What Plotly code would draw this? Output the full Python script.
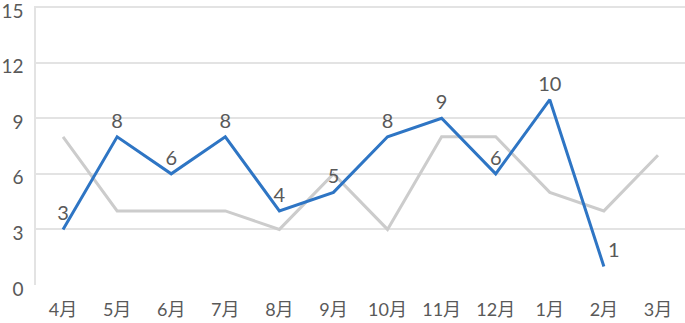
import plotly.graph_objects as go

months = ["4月", "5月", "6月", "7月", "8月", "9月", "10月", "11月", "12月", "1月", "2月", "3月"]
blue_vals = [3, 8, 6, 8, 4, 5, 8, 9, 6, 10, 1, None]
gray_vals = [8, 4, 4, 4, 3, 6, 3, 8, 8, 5, 4, 7]
blue_pos = ["top center"] * 10 + ["top right", "top center"]

FONT = "Lato, Noto Sans CJK JP"
TXT = "#595959"

fig = go.Figure()
fig.add_trace(go.Scatter(x=months, y=gray_vals, mode="lines",
                         line=dict(color="#cccccc", width=3), hoverinfo="skip"))
fig.add_trace(go.Scatter(x=months, y=blue_vals, mode="lines+markers+text",
                         line=dict(color="#2e75c4", width=3),
                         marker=dict(size=5, opacity=0, color="#2e75c4"),
                         text=[("" if v is None else str(v)) for v in blue_vals],
                         textposition=blue_pos,
                         textfont=dict(family=FONT, size=20, color=TXT, weight=400),
                         connectgaps=False))

fig.update_layout(
    width=685, height=323,
    margin=dict(l=36, r=0, t=6, b=38),
    paper_bgcolor="white", plot_bgcolor="white",
    showlegend=False,
    font=dict(family=FONT, color=TXT),
)
fig.update_xaxes(type="category", range=[-0.5, 11.5], showgrid=False, zeroline=False,
                 showline=False, ticks="", automargin=False, ticklabelstandoff=12,
                 tickfont=dict(family=FONT, size=18, color=TXT, weight=400))
fig.update_yaxes(range=[0, 15.06], tickvals=[0, 3, 6, 9, 12, 15], showgrid=True,
                 gridcolor="#e3e3e3", gridwidth=1.5, zeroline=False,
                 showline=True, linecolor="#e3e3e3", linewidth=1.5,
                 ticks="", ticklabelstandoff=7, automargin=False,
                 ticklabeloverflow="allow", ticklabelshift=4,
                 tickfont=dict(family=FONT, size=19, color=TXT, weight=400))

fig.write_html("out.html")
